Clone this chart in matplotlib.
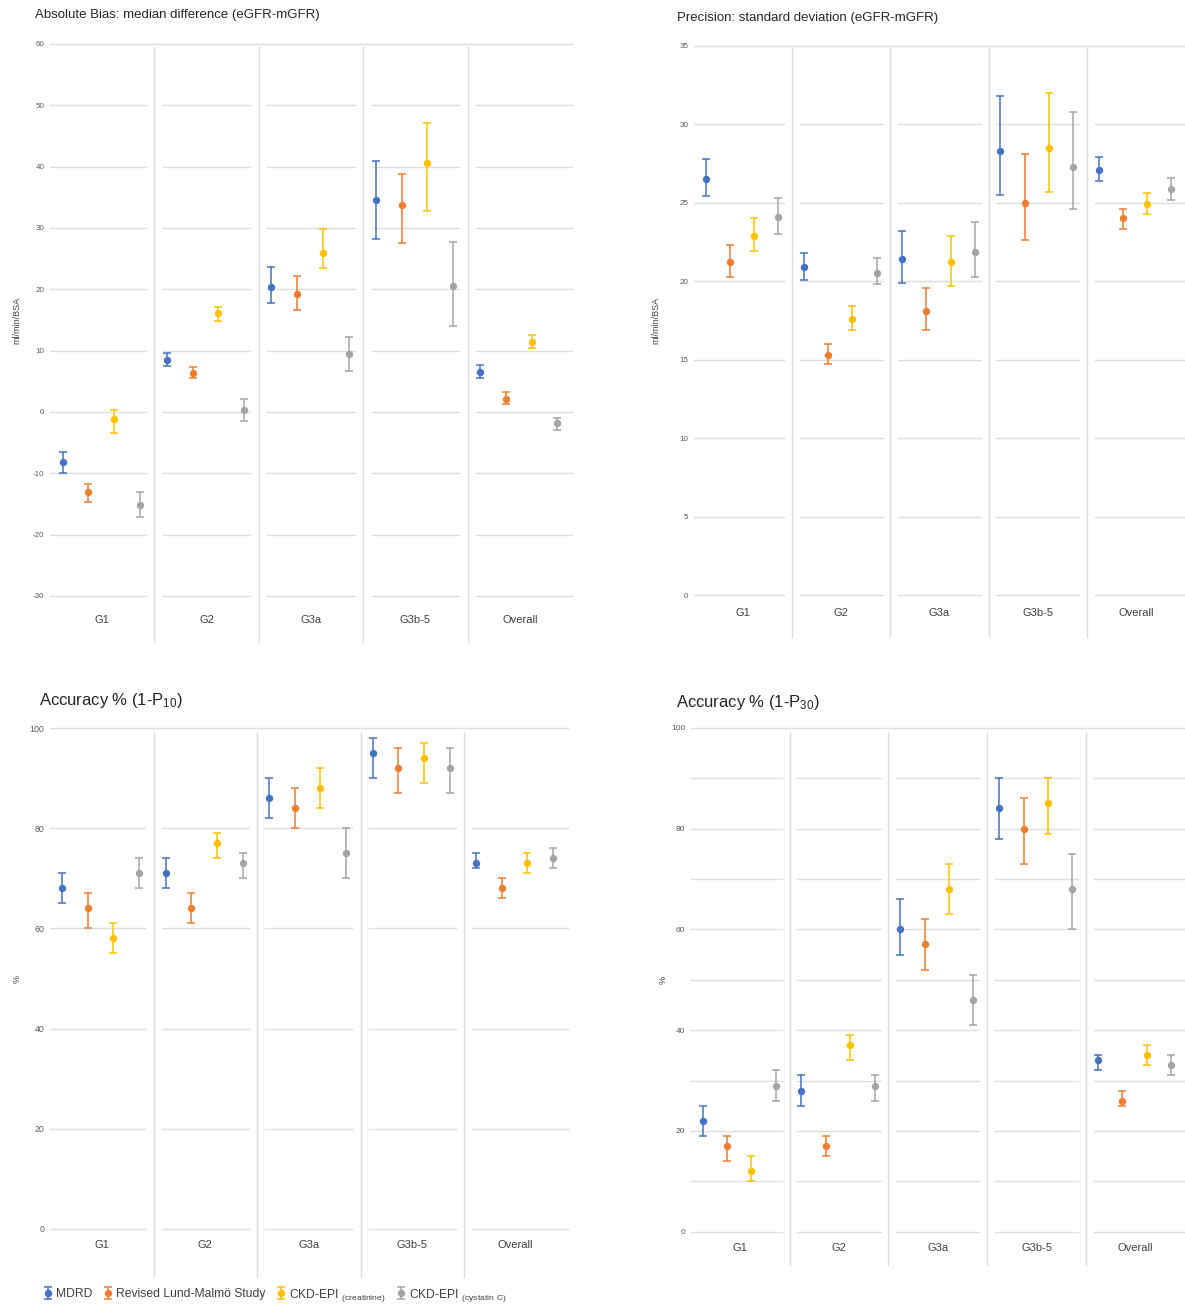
import numpy as np
import matplotlib.pyplot as plt

plt.rcParams['font.family'] = ['Liberation Sans', 'DejaVu Sans']
plt.rcParams['mathtext.default'] = 'regular'
plt.rcParams['axes.unicode_minus'] = False

W, H = 1185, 1307

categories = ['G1', 'G2', 'G3a', 'G3b-5', 'Overall']
methods = ['MDRD', 'Revised Lund-Malmö Study',
           r'CKD-EPI $_{(creatinine)}$', r'CKD-EPI $_{(cystatin\ C)}$']
colors = ['#4472C4', '#ED7D31', '#FFC000', '#A5A5A5']

# rows: MDRD, Lund-Malmo, CKD-EPI crea, CKD-EPI cys ; columns: categories
bias_mid = [[-8.2, 8.5, 20.3, 34.5, 6.5],
            [-13.0, 6.4, 19.3, 33.8, 2.2],
            [-1.2, 16.1, 26.0, 40.6, 11.4],
            [-15.1, 0.4, 9.5, 20.6, -1.8]]
bias_lo = [[-9.9, 7.5, 17.8, 28.2, 5.5],
           [-14.6, 5.6, 16.7, 27.5, 1.3],
           [-3.5, 14.8, 23.5, 32.7, 10.5],
           [-17.2, -1.5, 6.7, 14.0, -2.9]]
bias_hi = [[-6.5, 9.7, 23.6, 40.9, 7.7],
           [-11.7, 7.3, 22.2, 38.8, 3.3],
           [0.3, 17.2, 29.8, 47.2, 12.6],
           [-13.0, 2.1, 12.3, 27.7, -0.9]]

sd_mid = [[26.5, 20.9, 21.4, 28.3, 27.1],
          [21.2, 15.3, 18.1, 25.0, 24.0],
          [22.9, 17.6, 21.2, 28.5, 24.9],
          [24.1, 20.55, 21.85, 27.3, 25.9]]
sd_lo = [[25.4, 20.1, 19.9, 25.5, 26.4],
         [20.3, 14.7, 16.9, 22.6, 23.3],
         [21.9, 16.9, 19.7, 25.7, 24.3],
         [23.0, 19.8, 20.3, 24.6, 25.2]]
sd_hi = [[27.8, 21.8, 23.2, 31.8, 27.9],
         [22.3, 16.0, 19.6, 28.1, 24.6],
         [24.0, 18.4, 22.9, 32.0, 25.6],
         [25.3, 21.5, 23.8, 30.8, 26.6]]

p10_mid = [[68, 71, 86, 95, 73],
           [64, 64, 84, 92, 68],
           [58, 77, 88, 94, 73],
           [71, 73, 75, 92, 74]]
p10_lo = [[65, 68, 82, 90, 72],
          [60, 61, 80, 87, 66],
          [55, 74, 84, 89, 71],
          [68, 70, 70, 87, 72]]
p10_hi = [[71, 74, 90, 98, 75],
          [67, 67, 88, 96, 70],
          [61, 79, 92, 97, 75],
          [74, 75, 80, 96, 76]]

p30_mid = [[22, 28, 60, 84, 34],
           [17, 17, 57, 80, 26],
           [12, 37, 68, 85, 35],
           [29, 29, 46, 68, 33]]
p30_lo = [[19, 25, 55, 78, 32],
          [14, 15, 52, 73, 25],
          [10, 34, 63, 79, 33],
          [26, 26, 41, 60, 31]]
p30_hi = [[25, 31, 66, 90, 35],
          [19, 19, 62, 86, 28],
          [15, 39, 73, 90, 37],
          [32, 31, 51, 75, 35]]

offsets = np.array([-0.37, -0.123, 0.123, 0.37]) + 0.49
grid_col = '#DEDEDE'
inset = 0.08


def px_axes(l, r, t, b):
    return [l / W, 1 - b / H, (r - l) / W, (b - t) / H]


def draw_panel(rect, mid, lo, hi, ylim, grid_step, label_step, ylabel,
               lab_y, sep_top, sep_bot, ylab_x, tick_fs):
    ax = fig.add_axes(rect)
    ax.set_xlim(0, 5)
    ax.set_ylim(*ylim)
    for s in ax.spines.values():
        s.set_visible(False)
    ax.set_xticks([])
    ax.set_yticks(np.arange(ylim[0], ylim[1] + 0.01, label_step))
    ax.tick_params(axis='y', length=0, pad=4, labelsize=tick_fs, labelcolor='#595959')

    # gridlines broken at the category separators, top one continuous
    for g in np.arange(ylim[0], ylim[1] + 0.01, grid_step):
        if g == ylim[1]:
            ax.plot([0, 5], [g, g], color=grid_col, lw=1, zorder=1, clip_on=False)
            continue
        for i in range(5):
            x0 = i + (inset if i > 0 else 0)
            x1 = i + 1 - (inset if i < 4 else 0)
            ax.plot([x0, x1], [g, g], color=grid_col, lw=1, zorder=1, clip_on=False)

    tr = ax.get_xaxis_transform()
    for i in range(1, 5):
        ax.plot([i, i], [sep_bot, sep_top], color=grid_col, lw=1,
                transform=tr, clip_on=False, zorder=1)
    for i, c in enumerate(categories):
        ax.text(i + 0.5, lab_y, c, transform=tr, ha='center', va='center',
                fontsize=8, color='#404040')

    handles = []
    for k in range(4):
        m = np.array(mid[k], dtype=float)
        yerr = [m - np.array(lo[k]), np.array(hi[k]) - m]
        h = ax.errorbar(np.arange(5) + offsets[k], m, yerr=yerr, fmt='o',
                        color=colors[k], ms=4.3, elinewidth=1.1, capsize=2.6,
                        capthick=1.1, zorder=3)
        handles.append(h)

    ax.set_ylabel(ylabel, fontsize=6.5, color='#404040')
    ax.yaxis.set_label_coords(ylab_x, 0.5)
    return ax, handles


fig = plt.figure(figsize=(W / 100, H / 100), dpi=100)

draw_panel(px_axes(50, 572, 44, 596), bias_mid, bias_lo, bias_hi,
           (-30, 60), 10, 10, 'ml/min/BSA', -0.0435, 0.995, -0.083, -0.055, 5.8)
draw_panel(px_axes(694, 1185, 45.7, 595.3), sd_mid, sd_lo, sd_hi,
           (0, 35), 5, 5, 'ml/min/BSA', -0.032, 0.996, -0.076, -0.068, 5.8)
draw_panel(px_axes(50, 567.5, 728.3, 1228.7), p10_mid, p10_lo, p10_hi,
           (0, 100), 20, 20, '%', -0.033, 0.993, -0.0965, -0.055, 6.3)
ax4, handles = draw_panel(px_axes(690.7, 1185, 727.7, 1231.7), p30_mid, p30_lo, p30_hi,
                          (0, 100), 10, 20, '%', -0.032, 0.992, -0.066, -0.047, 6.0)

fig.text(35 / W, 1 - 15 / H, 'Absolute Bias: median difference (eGFR-mGFR)',
         fontsize=9.5, va='center', ha='left', color='#262626')
fig.text(677 / W, 1 - 18 / H, 'Precision: standard deviation (eGFR-mGFR)',
         fontsize=9.5, va='center', ha='left', color='#262626')
fig.text(39 / W, 1 - 701 / H, 'Accuracy % (1-P$_{10}$)',
         fontsize=12, va='center', ha='left', color='#262626')
fig.text(676 / W, 1 - 702 / H, 'Accuracy % (1-P$_{30}$)',
         fontsize=12, va='center', ha='left', color='#262626')

fig.legend(handles, methods, loc='center left',
           bbox_to_anchor=(44 / W, 1 - 1295 / H), ncol=4, frameon=False,
           fontsize=8.7, handlelength=0.7, handletextpad=0.3,
           columnspacing=0.95, borderpad=0, borderaxespad=0,
           labelcolor='#404040')

fig.savefig('out.png', dpi=100)
